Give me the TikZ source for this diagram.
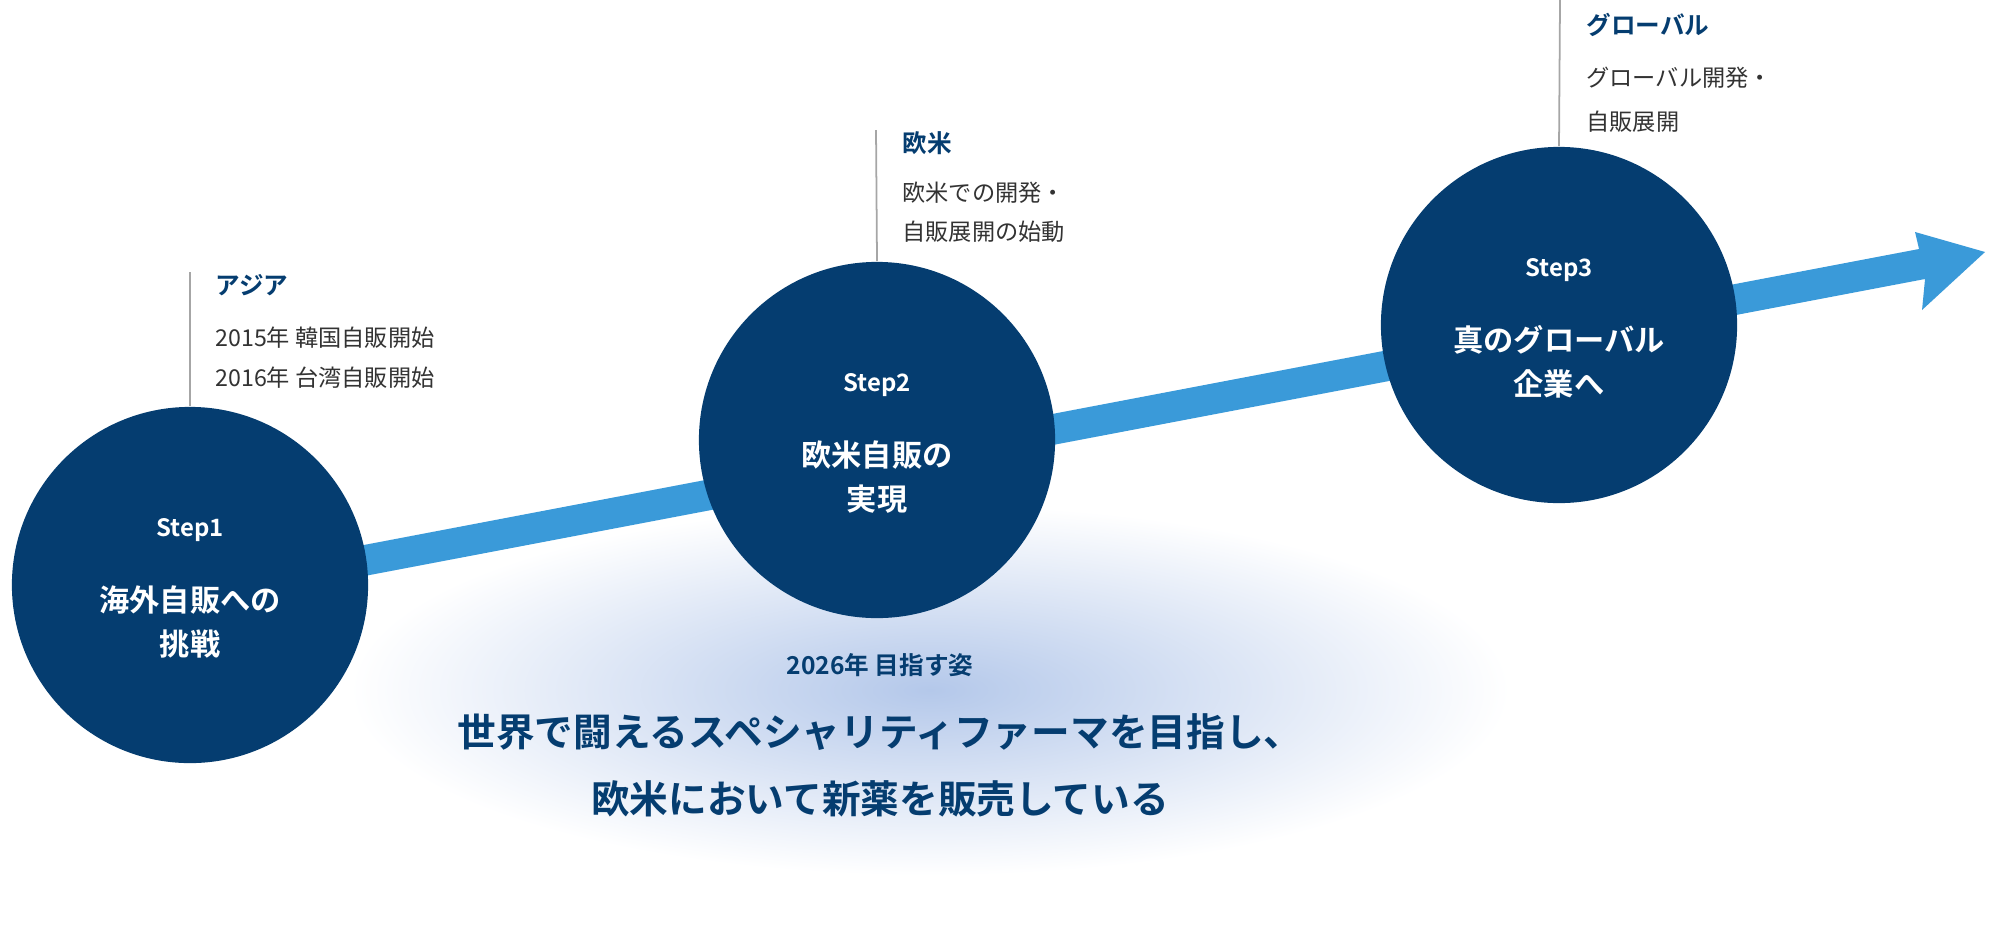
\documentclass[tikz,border=0pt]{standalone}
\usetikzlibrary{calc}
\usepackage{fontspec}
\setmainfont{Noto Sans CJK JP}
\newfontfamily\jpb{Noto Sans CJK JP Bold}
\definecolor{navy}{HTML}{053D70}
\definecolor{arrowblue}{HTML}{3A9AD9}
\definecolor{glow}{HTML}{B4C8EA}
\definecolor{txt}{HTML}{333333}
\begin{document}
\begin{tikzpicture}[x=0.01cm,y=-0.01cm,
  stepcirc/.style={circle,fill=navy,minimum size=3.56cm,inner sep=0},
  head/.style={anchor=west,text=navy,font=\jpb\fontsize{7pt}{8pt}\selectfont},
  lbl/.style={anchor=west,text=txt,font=\fontsize{6.6pt}{8pt}\selectfont},
  ctext/.style={text=white,align=center,font=\jpb\fontsize{8.6pt}{12.5pt}\selectfont},
  stxt/.style={text=white,font=\jpb\fontsize{6.8pt}{8pt}\selectfont},
  tick/.style={draw=gray!70,line width=0.5pt}]
\useasboundingbox (0,0) rectangle (1995,936);
% glow
\begin{scope}[shift={(930,690)},yscale=0.32]
\shade[inner color=glow,outer color=white] (0,0) circle (580);
\end{scope}
% arrow
\coordinate (a0) at (330,567);
\coordinate (tip) at (1985,252);
\fill[arrowblue] ($(a0)+(-3,-15)$) -- ($(1922,264)+(-3,-15)$) -- (1915,232) -- (tip) -- (1922,310) -- ($(1922,264)+(3,15)$) -- ($(a0)+(3,15)$) -- cycle;
% circles
\node[stepcirc] (s1) at (190,585) {};
\node[stepcirc] (s2) at (877,440) {};
\node[stepcirc] (s3) at (1559,325) {};
\node[stxt] (t1) at (190,530) {Step1};
\node[ctext] (c1) at (190,622) {海外自販への\\挑戦};
\node[stxt] (t2) at (877,385) {Step2};
\node[ctext] (c2) at (877,477) {欧米自販の\\実現};
\node[stxt] (t3) at (1559,270) {Step3};
\node[ctext] (c3) at (1559,362) {真のグローバル\\企業へ};
% ticks
\coordinate (k1) at (190,272); \draw[tick] (k1) -- (s1.north);
\coordinate (k2) at (876,130); \draw[tick] (k2) -- (s2.north);
\coordinate (k3) at (1560,0); \draw[tick] (k3) -- (s3.north);
% labels
\node[head] (h1) at (203,285) {アジア};
\node[lbl] (l1a) at (203,338) {2015年 韓国自販開始};
\node[lbl] (l1b) at (203,378) {2016年 台湾自販開始};
\node[head] (h2) at (890,143) {欧米};
\node[lbl] (l2a) at (890,193) {欧米での開発・};
\node[lbl] (l2b) at (890,232) {自販展開の始動};
\node[head] (h3) at (1574,25) {グローバル};
\node[lbl] (l3a) at (1574,78) {グローバル開発・};
\node[lbl] (l3b) at (1574,122) {自販展開};
% bottom
\node[text=navy,font=\jpb\fontsize{7pt}{8pt}\selectfont] (g) at (880,665) {2026年 目指す姿};
\node[text=navy,align=center,font=\jpb\fontsize{11pt}{19pt}\selectfont] (m) at (880,765) {世界で闘えるスペシャリティファーマを目指し、\\欧米において新薬を販売している};
\end{tikzpicture}
\end{document}
